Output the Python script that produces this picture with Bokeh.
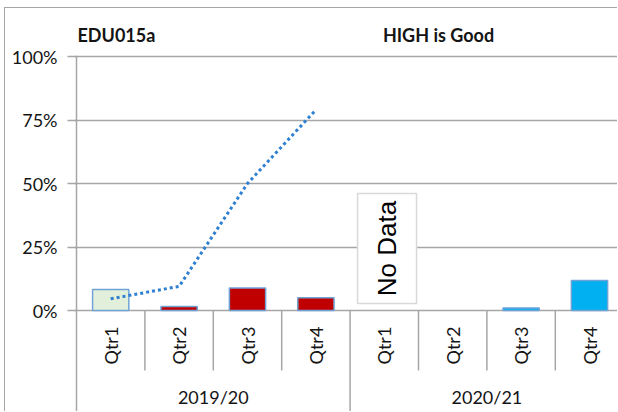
import numpy as np
from bokeh.plotting import figure
from bokeh.models import Range1d, FixedTicker
from bokeh.core.properties import value
from bokeh.embed import file_html
from bokeh.resources import INLINE

# ---- data ----
years = ["2019/20", "2020/21"]
quarters = ["Qtr1", "Qtr2", "Qtr3", "Qtr4"]
bar_values = [8.3, 1.6, 8.9, 5.0, None, None, 1.0, 11.8]          # percent
bar_colors = ["#e2efda", "#c00000", "#c00000", "#c00000",
              "#00b0f0", "#00b0f0", "#00b0f0", "#00b0f0"]
target_values = [4.6, 9.5, 50.0, 79.0]                              # 2019/20 only
y_ticks = [0, 25, 50, 75, 100]
y_tick_labels = ["0%", "25%", "50%", "75%", "100%"]
title_left = "EDU015a"
title_right = "HIGH is Good"
no_data_text = "No Data"
no_data_index = 4

FONT = "Lato"
TXT = "#141414"
GRID = "#a6a6a6"

n_cat = len(years) * len(quarters)
cat_px = 68.4
px_per_pct = 2.54
# content origin at (5, 8) after margin + border
fig_w, fig_h = 613, 404
left_pad = 69           # frame left at screen x = 74
zero_x = 76             # screen x of category start
zero_y = 310            # screen y of 0%
top_y = 56              # screen y of 100%
frame_left = 5 + left_pad
x_start = (frame_left - zero_x) / cat_px
x_end = (618 - zero_x) / cat_px
y_end = 100 + (top_y - 8) / px_per_pct
y_start = -(412 - zero_y) / px_per_pct

p = figure(width=fig_w, height=fig_h, output_backend="svg", toolbar_location=None,
           x_range=Range1d(x_start, x_end), y_range=Range1d(y_start, y_end),
           x_axis_location=None,
           min_border_left=left_pad, min_border_top=0, min_border_right=0, min_border_bottom=0,
           outline_line_color=None, background_fill_color="white", border_fill_color="white")
p.styles = {"margin-left": "4px", "margin-top": "7px",
            "border-left": "1px solid #a6a6a6", "border-top": "1px solid #a6a6a6"}

# grid & y axis
p.xgrid.visible = False
p.ygrid.ticker = FixedTicker(ticks=y_ticks)
p.ygrid.grid_line_color = GRID
p.ygrid.grid_line_width = 1.5
ax = p.yaxis[0]
ax.ticker = FixedTicker(ticks=y_ticks)
ax.major_label_overrides = {t: l for t, l in zip(y_ticks, y_tick_labels)}
ax.major_tick_out = 7
ax.major_tick_in = 2
ax.minor_tick_line_color = None
ax.axis_line_color = None
ax.major_tick_line_color = GRID
ax.major_tick_line_width = 1.5
ax.major_label_text_font = FONT
ax.major_label_text_font_size = "18px"
ax.major_label_text_color = TXT
ax.major_label_standoff = 10

# value axis line (from the bottom of the category area up to 100%)
p.segment(x0=[0], y0=[y_start - 1], x1=[0], y1=[max(y_ticks)], line_color=GRID, line_width=1.5)

# bars
xs = np.arange(n_cat) + 0.5
vals = np.array([np.nan if v is None else v for v in bar_values], dtype=float)
p.vbar(x=xs, top=vals, bottom=0, width=0.53, fill_color=bar_colors,
       line_color="#6fa3d8", line_width=1.5)

# target line (2019/20 only)
p.line(x=xs[:len(target_values)], y=target_values,
       line_color="#2f80d0", line_width=3, line_dash="3 3")

# category axis (drawn in the frame below zero)
cat_labels = [q for _ in years for q in quarters]
p.text(x=xs, y=[-13.8] * n_cat, text=cat_labels, angle=np.pi / 2,
       text_font=value(FONT), text_font_size="18px", text_color=TXT,
       text_align="center", text_baseline="middle")
grp_x = np.arange(len(years)) * len(quarters) + len(quarters) / 2
p.text(x=grp_x, y=[-34.0] * len(years), text=years,
       text_font=value(FONT), text_font_size="18px", text_color=TXT,
       text_align="center", text_baseline="middle")
q_sep = [i for i in range(1, n_cat) if i % len(quarters) != 0]
p.segment(x0=q_sep, y0=[0] * len(q_sep), x1=q_sep, y1=[-23.6] * len(q_sep),
          line_color=GRID, line_width=1.5)
g_sep = [i for i in range(1, n_cat + 1) if i % len(quarters) == 0]
p.segment(x0=g_sep, y0=[0] * len(g_sep), x1=g_sep, y1=[y_start - 1] * len(g_sep),
          line_color=GRID, line_width=1.5)

# No Data box
nd_x = no_data_index + 0.54
p.rect(x=[nd_x], y=[24.4], width=59, height=110, width_units="screen", height_units="screen",
       fill_color="white", line_color="#d9d9d9", line_width=1.5)
p.text(x=[nd_x], y=[24.4], text=[no_data_text], angle=np.pi / 2,
       text_font=value("Liberation Sans"), text_font_size="26px", text_color="#000000",
       text_align="center", text_baseline="middle")

# titles (inside the frame, above 100%)
p.text(x=[1 / cat_px], y=[108.5], text=[title_left], text_font=value(FONT),
       text_font_size="18px", text_font_style="bold", text_color=TXT,
       text_align="left", text_baseline="middle")
p.text(x=[(438 - zero_x) / cat_px], y=[108.5], text=[title_right], text_font=value(FONT),
       text_font_size="18px", text_font_style="bold", text_color=TXT,
       text_align="center", text_baseline="middle")

open("out.html", "w").write(file_html(p, INLINE))
